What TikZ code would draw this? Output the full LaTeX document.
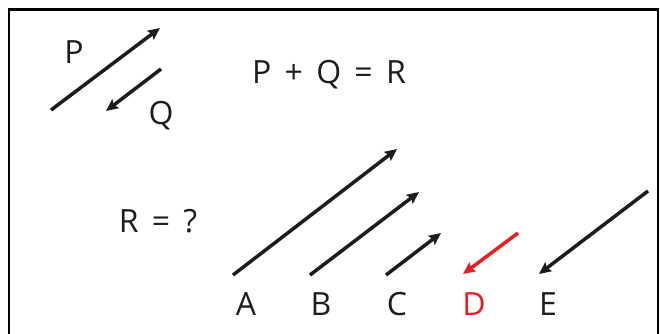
\documentclass[tikz,border=0pt]{standalone}
\usepackage{fontspec}
\setmainfont[WordSpace=1.6]{Open Sans}
\usepackage{xcolor}
\usetikzlibrary{arrows.meta, positioning}

\definecolor{vecred}{RGB}{232,30,36}
\definecolor{ink}{RGB}{30,28,29}

\begin{document}
\begin{tikzpicture}[
  x=1pt, y=-1pt,
  vec/.style={draw=ink, line width=3.5pt, -{Stealth[length=12pt, width=11pt, inset=2pt]}},
  lbl/.style={text=ink, font=\fontsize{32}{32}\selectfont, inner sep=0pt, anchor=base},
  frame/.style={draw=black, line width=2.5pt}
]
\useasboundingbox (0,0) rectangle (660,333);

% Frame (open at the bottom)
\draw[frame] (9,345) -- (9,9.5) -- (658,9.5) -- (658,345);

% Given vectors
\coordinate (p0) at (51,110);
\coordinate (p1) at (160,28);
\coordinate (q0) at (161,69);
\coordinate (q1) at (106,111);
\node[lbl] (lp) at (74,63) {P};
\node[lbl] (lq) at (161,124) {Q};
\node[lbl] (eq) at (329,83) {P + Q = R};
\node[lbl] (ask) at (158,232) {R = ?};

% Choices
\coordinate (a0) at (233,275);
\coordinate (a1) at (397,149);
\coordinate (b0) at (310,275);
\coordinate (b1) at (419,192);
\coordinate (c0) at (386,275);
\coordinate (c1) at (441,233);
\coordinate (d0) at (518,233);
\coordinate (d1) at (463,274);
\coordinate (e0) at (648,191);
\coordinate (e1) at (539,274);
\node[lbl] (la) at (246,315) {A};
\node[lbl] (lb) at (321,315) {B};
\node[lbl] (lc) at (397,315) {C};
\node[lbl, text=vecred] (ld) at (474,315) {D};
\node[lbl] (le) at (548,315) {E};

% Arrows
\draw[vec] (p0) -- (p1);
\draw[vec] (q0) -- (q1);
\draw[vec] (a0) -- (a1);
\draw[vec] (b0) -- (b1);
\draw[vec] (c0) -- (c1);
\draw[vec, draw=vecred, fill=vecred] (d0) -- (d1);
\draw[vec] (e0) -- (e1);
\end{tikzpicture}
\end{document}
